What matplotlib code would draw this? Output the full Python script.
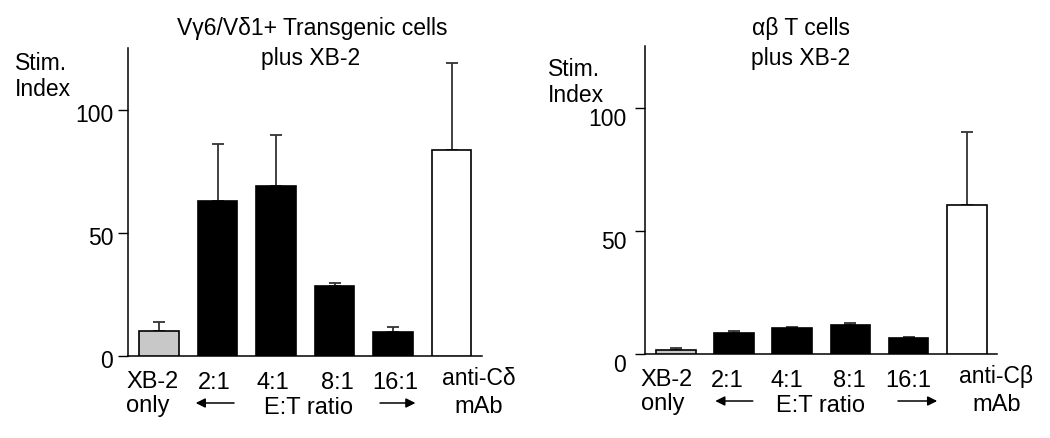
import numpy as np
import matplotlib
matplotlib.use('Agg')
import matplotlib.pyplot as plt
import matplotlib.transforms as mtransforms

plt.rcParams['font.family'] = ['Liberation Sans', 'DejaVu Sans']

# values
labels = ['2:1', '4:1', '8:1', '16:1']
left_vals = [10.0, 63.0, 69.0, 28.6, 9.7, 83.5]
left_err = [3.8, 23.0, 20.7, 0.9, 2.1, 35.5]
right_vals = [1.6, 8.7, 10.7, 11.7, 6.4, 60.4]
right_err = [1.0, 0.8, 0.4, 0.9, 0.5, 29.6]
bar_colors = ['#c8c8c8', 'black', 'black', 'black', 'black', 'white']

fig = plt.figure(figsize=(10.5, 4.38), dpi=100)
W, H = 1050, 438


def panel(left_px, right_px, zero_px, top_px, vals, errs, mab, lab_x, arrows, etx, pad, drop):
    ax = fig.add_axes([left_px / W, (H - zero_px) / H, (right_px - left_px) / W, (zero_px - top_px) / H])
    x = np.arange(len(vals))
    ax.bar(x, vals, width=0.68, color=bar_colors, edgecolor='black', linewidth=1.2, zorder=3)
    ax.errorbar(x, vals, yerr=[np.zeros(len(vals)), errs], fmt='none', ecolor='#333333',
                elinewidth=1.3, capsize=4.5, capthick=1.3, zorder=2)
    ax.set_xlim(-0.53, 5.52)
    ax.set_ylim(0, 125)
    ax.set_yticks([0, 50, 100])
    ax.tick_params(axis='y', direction='out', length=7, width=1, labelsize=16.5, pad=pad)
    # tick numbers sit a little lower than their ticks
    shift = mtransforms.ScaledTranslation(0, -drop / 100, fig.dpi_scale_trans)
    for lab in ax.get_yticklabels():
        lab.set_transform(lab.get_transform() + shift)
    ax.set_xticks([])
    for s in ['top', 'right']:
        ax.spines[s].set_visible(False)
    ax.spines['left'].set_linewidth(1.1)
    ax.spines['bottom'].set_linewidth(1.1)

    def below(px):
        return mtransforms.offset_copy(ax.get_xaxis_transform(), fig=fig, x=0, y=-px, units='dots')

    fs = 17
    ax.text(lab_x[0], 0, 'XB-2', transform=below(32), ha='left', va='baseline', fontsize=fs)
    ax.text(lab_x[0], 0, 'only', transform=below(56), ha='left', va='baseline', fontsize=fs)
    for lx, lab in zip(lab_x[1:5], labels):
        ax.text(lx, 0, lab, transform=below(33), ha='center', va='baseline', fontsize=fs)
    ax.text(lab_x[5], 0, mab, transform=below(29), ha='center', va='baseline', fontsize=16.5)
    ax.text(lab_x[5], 0, 'mAb', transform=below(57), ha='center', va='baseline', fontsize=fs)
    ax.text(etx, 0, 'E:T ratio', transform=below(58), ha='center', va='baseline', fontsize=fs)
    (a0, a1), (b0, b1) = arrows
    ax.annotate('', xy=(a0, 0), xytext=(a1, 0), xycoords=below(47), textcoords=below(47),
                arrowprops=dict(arrowstyle='-|>', color='black', lw=1.1, mutation_scale=14))
    ax.annotate('', xy=(b1, 0), xytext=(b0, 0), xycoords=below(47), textcoords=below(47),
                arrowprops=dict(arrowstyle='-|>', color='black', lw=1.1, mutation_scale=14))
    return ax


panel(128, 482, 356, 48, left_vals, left_err, 'anti-C\u03b4',
      [-0.56, 0.94, 1.94, 3.05, 4.04, 5.47], [(0.58, 1.33), (3.73, 4.43)], 2.56, 3.6, 3)
panel(645, 997, 354, 46, right_vals, right_err, 'anti-C\u03b2',
      [-0.6, 0.89, 1.9, 2.98, 4.0, 5.51], [(0.63, 1.37), (3.77, 4.54)], 2.48, 6.5, 9)

# titles and y labels
tfs = 16.5
fig.text(312 / W, 1 - 28 / H, 'V\u03b36/V\u03b41+ Transgenic cells', ha='center', va='center', fontsize=tfs)
fig.text(311 / W, 1 - 58 / H, 'plus XB-2', ha='center', va='center', fontsize=tfs)
fig.text(801 / W, 1 - 28 / H, '\u03b1\u03b2 T cells', ha='center', va='center', fontsize=tfs)
fig.text(801 / W, 1 - 58 / H, 'plus XB-2', ha='center', va='center', fontsize=tfs)
fig.text(15 / W, 1 - 63 / H, 'Stim.', ha='left', va='center', fontsize=tfs)
fig.text(15 / W, 1 - 90 / H, 'Index', ha='left', va='center', fontsize=tfs)
fig.text(548 / W, 1 - 70 / H, 'Stim.', ha='left', va='center', fontsize=tfs)
fig.text(548 / W, 1 - 96 / H, 'Index', ha='left', va='center', fontsize=tfs)

fig.savefig('out.png', dpi=100)
